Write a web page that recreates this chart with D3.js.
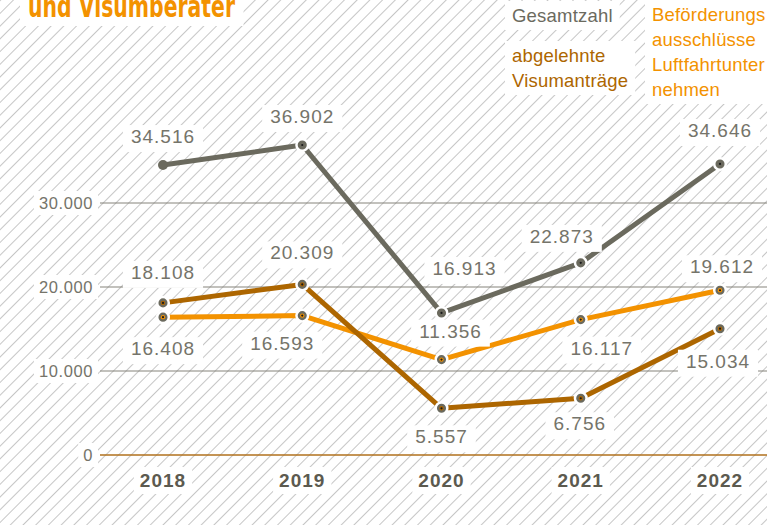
<!DOCTYPE html>
<html>
<head>
<meta charset="utf-8">
<script src="https://cdn.jsdelivr.net/npm/d3@7"></script>
<style>
  html, body { margin: 0; padding: 0; background: #fff; }
  svg { display: block; }
  text { font-family: "Liberation Sans", Arial, Helvetica, sans-serif; }
</style>
</head>
<body>
<svg id="chart" width="767" height="525"></svg>
<script>
// ---- data ----
const years = ["2018", "2019", "2020", "2021", "2022"];
const gesamtzahl = [34516, 36902, 16913, 22873, 34646];
const abgelehnt = [18108, 20309, 5557, 6756, 15034];
const befoerderung = [16408, 16593, 11356, 16117, 19612];
const yTicks = [0, 10000, 20000, 30000];
const titleText = "und Visumberater";

// ---- label placement (offset of each value label from its point) ----
const gesamtLabelOffset = [[0, -22], [0, -22], [23, -38], [-19, -20], [0, -27]];
const abgelehntLabelOffset = [[0, -24], [0, -25], [0, 35], [-1, 32], [-2, 39]];
const befoerderungLabelOffset = [[0, 38], [-20, 34], [9, -22], [21, 35], [2, -17]];

const W = 767, H = 525;
const svg = d3.select("#chart");

const de = d3.formatLocale({ decimal: ",", thousands: ".", grouping: [3], currency: ["", " €"] });
const fmt = de.format(",d");

const x = d3.scalePoint().domain(years).range([163, 720]);
const y = d3.scaleLinear().domain([0, 30000]).range([455, 203]);

const C_GRAY = "#6b6a5e";
const C_BROWN = "#ad6600";
const C_ORANGE = "#f39200";

// hatched background
const defs = svg.append("defs");
const pat = defs.append("pattern")
  .attr("id", "hatch")
  .attr("patternUnits", "userSpaceOnUse")
  .attr("width", 9).attr("height", 9)
  .attr("patternTransform", "rotate(45)");
pat.append("rect").attr("width", 9).attr("height", 9).attr("fill", "#fff");
pat.append("line").attr("x1", 0.5).attr("y1", 0).attr("x2", 0.5).attr("y2", 9)
  .attr("stroke", "#c6c6c6").attr("stroke-width", 1);
svg.append("rect").attr("width", W).attr("height", H).attr("fill", "url(#hatch)");

// white knock-out box behind a text element
function knockout(g, textSel, padX, padTop, padBottom) {
  textSel.each(function () {
    const b = this.getBBox();
    g.insert("rect", () => this)
      .attr("x", b.x - padX).attr("y", b.y - padTop)
      .attr("width", b.width + 2 * padX).attr("height", b.height + padTop + padBottom)
      .attr("fill", "#fff");
  });
}

// title (runs off the top edge)
const gTitle = svg.append("g");
const title = gTitle.append("text")
  .attr("x", 28).attr("y", 17)
  .attr("fill", C_ORANGE)
  .style("font-family", "'Liberation Sans Narrow', 'DejaVu Sans Condensed', 'Roboto Condensed', sans-serif")
  .style("font-weight", "bold").style("font-size", "30px")
  .attr("textLength", 207).attr("lengthAdjust", "spacingAndGlyphs")
  .text(titleText);
knockout(gTitle, title, 8, 2, 2);

// gridlines
svg.append("g").selectAll("line").data(yTicks.filter(d => d > 0)).join("line")
  .attr("x1", 100).attr("x2", W)
  .attr("y1", d => y(d)).attr("y2", d => y(d))
  .attr("stroke", "#85837a").attr("stroke-width", 1);
svg.append("line")
  .attr("x1", 100).attr("x2", W).attr("y1", y(0)).attr("y2", y(0))
  .attr("stroke", "#b0711c").attr("stroke-width", 1.5);

// y tick labels
const gY = svg.append("g");
const yLab = gY.selectAll("text").data(yTicks).join("text")
  .attr("x", 93).attr("y", d => y(d) + 6)
  .attr("text-anchor", "end")
  .attr("fill", "#75746a")
  .style("font-size", "16.5px").style("letter-spacing", "0.6px")
  .text(d => fmt(d));
knockout(gY, yLab, 5, 3, 3);

// x labels
const gX = svg.append("g");
const xLab = gX.selectAll("text").data(years).join("text")
  .attr("x", d => x(d)).attr("y", 487)
  .attr("text-anchor", "middle")
  .attr("fill", "#5c5a4f")
  .style("font-size", "19px").style("font-weight", "bold").style("letter-spacing", "1px")
  .text(d => d);
knockout(gX, xLab, 6, 3, 3);

// legend
const legend = [
  { lines: ["Gesamtzahl"], x: 512, y: 22, color: C_GRAY },
  { lines: ["abgelehnte", "Visumanträge"], x: 512, y: 62, color: C_BROWN },
  { lines: ["Beförderungs", "ausschlüsse", "Luftfahrtunter", "nehmen"], x: 652, y: 21, color: C_ORANGE }
];
const gLeg = svg.append("g");
legend.forEach(L => {
  const t = gLeg.append("text")
    .attr("x", L.x).attr("y", L.y)
    .attr("fill", L.color)
    .style("font-size", "18.5px").style("letter-spacing", "0.2px");
  L.lines.forEach((s, i) => t.append("tspan").attr("x", L.x).attr("dy", i === 0 ? 0 : 25).text(s));
  knockout(gLeg, t, 7, 4, 4);
});

// series
const series = [
  { values: befoerderung, color: C_ORANGE, offsets: befoerderungLabelOffset, firstMarker: true },
  { values: abgelehnt, color: C_BROWN, offsets: abgelehntLabelOffset, firstMarker: true },
  { values: gesamtzahl, color: C_GRAY, offsets: gesamtLabelOffset, firstMarker: false }
];

const line = d3.line().x((d, i) => x(years[i])).y(d => y(d));

const gLines = svg.append("g");
const gMarks = svg.append("g");
const gLabels = svg.append("g");

series.forEach(s => {
  gLines.append("path")
    .attr("d", line(s.values))
    .attr("fill", "none")
    .attr("stroke", s.color)
    .attr("stroke-width", 5)
    .attr("stroke-linecap", "round")
    .attr("stroke-linejoin", "round");

  s.values.forEach((v, i) => {
    const cx = x(years[i]), cy = y(v);
    if (i === 0 && !s.firstMarker) {
      gMarks.append("circle").attr("cx", cx).attr("cy", cy).attr("r", 5).attr("fill", s.color);
      return;
    }
    gMarks.append("circle").attr("cx", cx).attr("cy", cy).attr("r", 5.8)
      .attr("fill", C_GRAY).attr("stroke", "#fff").attr("stroke-width", 2.5);
    gMarks.append("circle").attr("cx", cx).attr("cy", cy).attr("r", 2.2).attr("fill", s.color);
    gMarks.append("circle").attr("cx", cx).attr("cy", cy).attr("r", 1.1).attr("fill", "#1a1a1a");
  });
});

// value labels (boxes drawn above the lines)
series.forEach(s => {
  s.values.forEach((v, i) => {
    const [dx, dy] = s.offsets[i];
    const t = gLabels.append("text")
      .attr("x", x(years[i]) + dx).attr("y", y(v) + dy)
      .attr("text-anchor", "middle")
      .attr("fill", "#75746a")
      .style("font-size", "19px").style("letter-spacing", "1px")
      .text(fmt(v));
    knockout(gLabels, t, 8, 1, 5);
  });
});
</script>
</body>
</html>
